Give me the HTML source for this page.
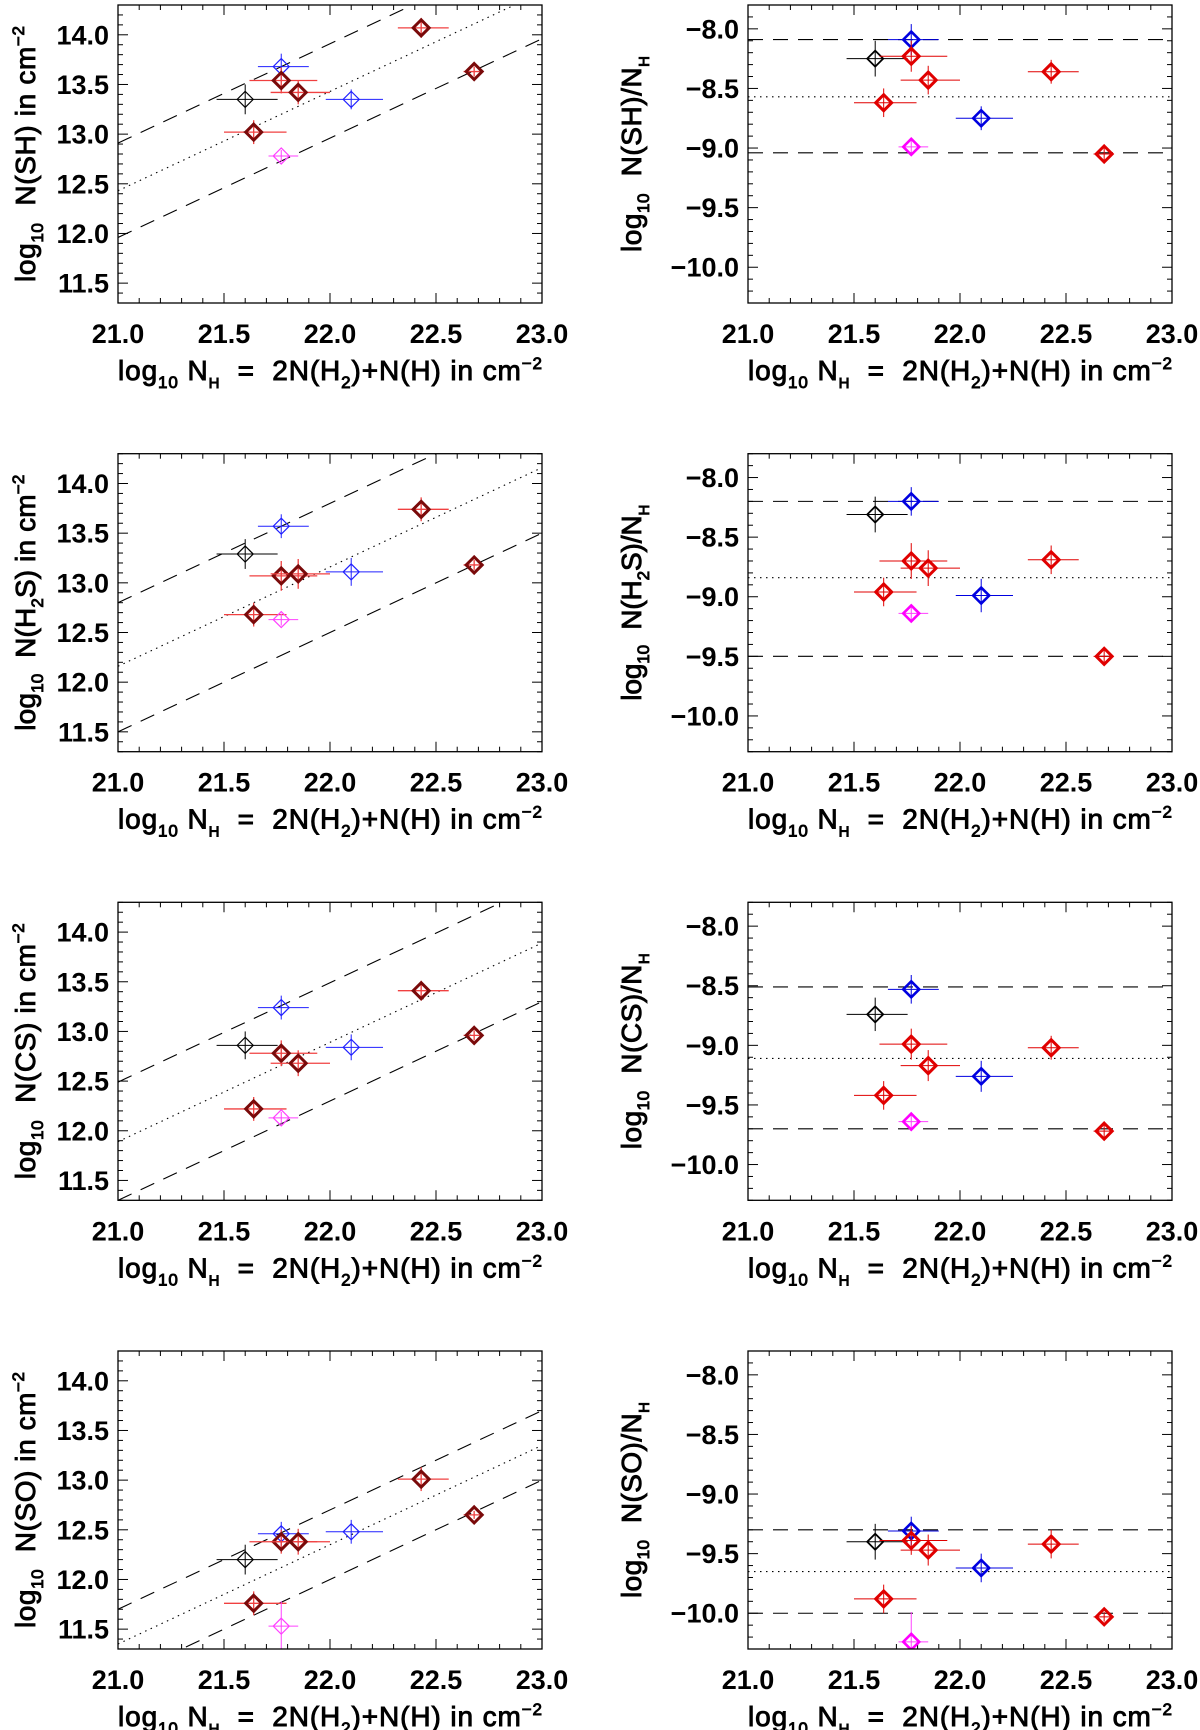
<!DOCTYPE html>
<html><head><meta charset="utf-8"><style>
html,body{margin:0;padding:0;background:#fff}
svg{display:block}
text{font-family:"Liberation Sans",Arial,sans-serif;font-weight:bold;fill:#000}
</style></head><body>
<svg id="fig" width="1200" height="1730" viewBox="0 0 1200 1730" xmlns="http://www.w3.org/2000/svg"></svg>
<script>
// ---- data ----
const nh     = [21.60, 21.77, 21.77, 21.85, 21.64, 22.10, 22.43, 22.68, 21.77];
const nhLo   = [21.465,21.66, 21.62, 21.72, 21.50, 21.98, 22.32, 22.63, 21.71];
const nhHi   = [21.753,21.90, 21.94, 22.00, 21.795,22.25, 22.56, 22.72, 21.85];
const colorKey = ['k','b','r','r','r','b','r','r','m'];
const molecules = ['SH','H2S','CS','SO'];
const nSH   = [13.35,13.68,13.54,13.42,13.02,13.35,14.07,13.63,12.78];
const eSH   = [0.15,0.13,0.13,0.12,0.12,0.10,0.10,0.05,0.06];
const nH2S  = [13.29,13.57,13.07,13.09,12.68,13.11,13.74,13.18,12.63];
const eH2S  = [0.15,0.12,0.15,0.15,0.12,0.14,0.12,0.05,0.06];
const nCS   = [12.86,13.24,12.78,12.68,12.22,12.84,13.41,12.96,12.13];
const eCS   = [0.14,0.12,0.13,0.13,0.12,0.13,0.10,0.05,0.06];
const nSO   = [12.20,12.46,12.38,12.38,11.76,12.48,13.01,12.65,11.53];
const eSO   = [0.15,0.12,0.12,0.13,0.12,0.12,0.12,0.04,0.25];
const ratioMean  = [-8.57,-8.84,-9.11,-9.65];
const ratioUpper = [-8.09,-8.20,-8.51,-9.30];
const ratioLower = [-9.04,-9.50,-9.70,-10.00];
const xTicks = [21.0,21.5,22.0,22.5,23.0];
const yTicksL = [11.5,12.0,12.5,13.0,13.5,14.0];
const yTicksR = [-10.0,-9.5,-9.0,-8.5,-8.0];

const colVals = [nSH,nH2S,nCS,nSO];
const colErrs = [eSH,eH2S,eCS,eSO];
const NS='http://www.w3.org/2000/svg';
const svg=document.getElementById('fig');
function mk(tag,attrs,parent){const e=document.createElementNS(NS,tag);for(const k in attrs)e.setAttribute(k,attrs[k]);(parent||svg).appendChild(e);return e;}

const FW=424, FH=298;
const lefts=[118,748];
const tops=[5,453.7,902.3,1351];
const xMin=21,xMax=23;
const yRangeL=[11.3,14.3], yRangeR=[-10.3,-7.8];

const colsLeft={k:{s:'#000',w:1.2,e:'#000',ew:1},b:{s:'#2020ff',w:1.2,e:'#2020ff',ew:1},r:{s:'#7a0a0a',w:3,e:'#f04040',ew:1.3},m:{s:'#ff40ff',w:1.2,e:'#ff40ff',ew:1}};
const colsRight={k:{s:'#000',w:1.8,e:'#000',ew:1},b:{s:'#0000e0',w:2.6,e:'#0000e0',ew:1},r:{s:'#e00000',w:3,e:'#e00000',ew:1},m:{s:'#ff00ff',w:2.6,e:'#ff40ff',ew:1}};

function fmt(v){return v.toFixed(1).replace('-','\u2212');}
const titleStyle='font-weight:normal;stroke:#000;stroke-width:0.9;white-space:pre';

function panel(row,side){
  const X0=lefts[side], Y0=tops[row];
  const yr=side===0?yRangeL:yRangeR;
  const sx=v=>X0+(v-xMin)/(xMax-xMin)*FW;
  const sy=v=>Y0+FH-(v-yr[0])/(yr[1]-yr[0])*FH;
  const mol=molecules[row];
  const g=mk('g',{});
  
  
  const cid='clip'+row+'_'+side;
  const cp=mk('clipPath',{id:cid},g); mk('rect',{x:X0,y:Y0,width:FW,height:FH},cp);
  // ticks
  const tg=mk('g',{stroke:'#000','stroke-width':1},g);
  
  
  for(let i=0;i<=20;i++){const v=xMin+i*0.1;const x=sx(v);const L=(i%5===0)?10:5;
    mk('line',{x1:x,y1:Y0+FH,x2:x,y2:Y0+FH-L},tg);mk('line',{x1:x,y1:Y0,x2:x,y2:Y0+L},tg);}
  const n=Math.round((yr[1]-yr[0])/0.1);
  for(let i=0;i<=n;i++){const v=yr[0]+i*0.1;const y=sy(v);const maj=Math.abs(v*2-Math.round(v*2))<1e-6;const L=maj?10:5;
    mk('line',{x1:X0,y1:y,x2:X0+L,y2:y},tg);mk('line',{x1:X0+FW,y1:y,x2:X0+FW-L,y2:y},tg);}
  // tick labels
  xTicks.forEach(v=>{const t=mk('text',{x:sx(v),y:Y0+FH+40,'text-anchor':'middle','font-size':27},g);t.textContent=v.toFixed(1);
    
    });
  (side===0?yTicksL:yTicksR).forEach(v=>{const t=mk('text',{x:X0-9,y:sy(v)+9.5,'text-anchor':'end','font-size':27},g);t.textContent=fmt(v);
    
    });
  // x title
  const xt=mk('text',{x:X0,y:Y0+FH+77,'text-anchor':'start','font-size':28,textLength:FW,lengthAdjust:'spacing'},g);
  
  
  xt.innerHTML='log<tspan font-size="17" dy="8">10</tspan><tspan dy="-8"> N</tspan><tspan font-size="15" dy="8">H</tspan><tspan dy="-8">  =  2N(H</tspan><tspan font-size="17" dy="8">2</tspan><tspan dy="-8">)+N(H) in cm</tspan><tspan font-size="17" dy="-11">−2</tspan>';
  xt.setAttribute('style',titleStyle);
  // y title
  const molHtml = mol==='H2S' ? 'H<tspan font-size="17" dy="8">2</tspan><tspan dy="-8">S</tspan>' : mol;
  const yc=Y0+FH/2;
  const ycx = side===0 ? X0-83 : X0-107;
  const len = side===0 ? 256 : 196;
  const yt=mk('text',{x:-len/2,y:0,'text-anchor':'start','font-size':28,textLength:len,lengthAdjust:'spacing',transform:`translate(${ycx},${yc}) rotate(-90)`},g);
  
  
  yt.setAttribute('style',titleStyle);
  if(side===0) yt.innerHTML='log<tspan font-size="17" dy="8">10</tspan><tspan dy="-8">  N(</tspan>'+molHtml+'<tspan>) in cm</tspan><tspan font-size="17" dy="-11">−2</tspan>';
  else yt.innerHTML='log<tspan font-size="17" dy="8">10</tspan><tspan dy="-8">  N(</tspan>'+molHtml+'<tspan>)/N</tspan><tspan font-size="15" dy="8">H</tspan>';
  // reference lines
  const lg=mk('g',{'clip-path':`url(#${cid})`,stroke:'#000','stroke-width':1.1,fill:'none'},g);
  const defs=[[ratioUpper[row],'15,10','upper-dashed-line'],[ratioMean[row],'1.5,4.5','mean-dotted-line'],[ratioLower[row],'15,10','lower-dashed-line']];
  defs.forEach(([c,da,name])=>{
    let l;
    if(side===0) l=mk('line',{x1:sx(xMin),y1:sy(xMin+c),x2:sx(xMax),y2:sy(xMax+c),'stroke-dasharray':da},lg);
    else l=mk('line',{x1:sx(xMin),y1:sy(c),x2:sx(xMax),y2:sy(c),'stroke-dasharray':da},lg);
    
    
  });
  // points
  const pg=mk('g',{'clip-path':`url(#${cid})`,fill:'none'},g);
  const vals=colVals[row], errs=colErrs[row];
  for(let i=0;i<nh.length;i++){
    const st=(side===0?colsLeft:colsRight)[colorKey[i]];
    const v= side===0 ? vals[i] : vals[i]-nh[i];
    const x=sx(nh[i]), y=sy(v);
    const pt=mk('g',{},pg);
    
    
    mk('line',{x1:sx(nhLo[i]),y1:y,x2:sx(nhHi[i]),y2:y,stroke:st.e,'stroke-width':st.ew},pt);
    mk('line',{x1:x,y1:sy(v-errs[i]),x2:x,y2:sy(v+errs[i]),stroke:st.e,'stroke-width':st.ew},pt);
    const d=8;
    mk('polygon',{points:`${x},${y-d} ${x+d},${y} ${x},${y+d} ${x-d},${y}`,stroke:st.s,'stroke-width':st.w,'stroke-linejoin':'miter'},pt);
  }
  // frame
  const fr=mk('rect',{x:X0,y:Y0,width:FW,height:FH,fill:'none',stroke:'#000','stroke-width':1.3},g);
  
  
}
for(let r=0;r<4;r++){panel(r,0);panel(r,1);}
</script>
</body></html>
